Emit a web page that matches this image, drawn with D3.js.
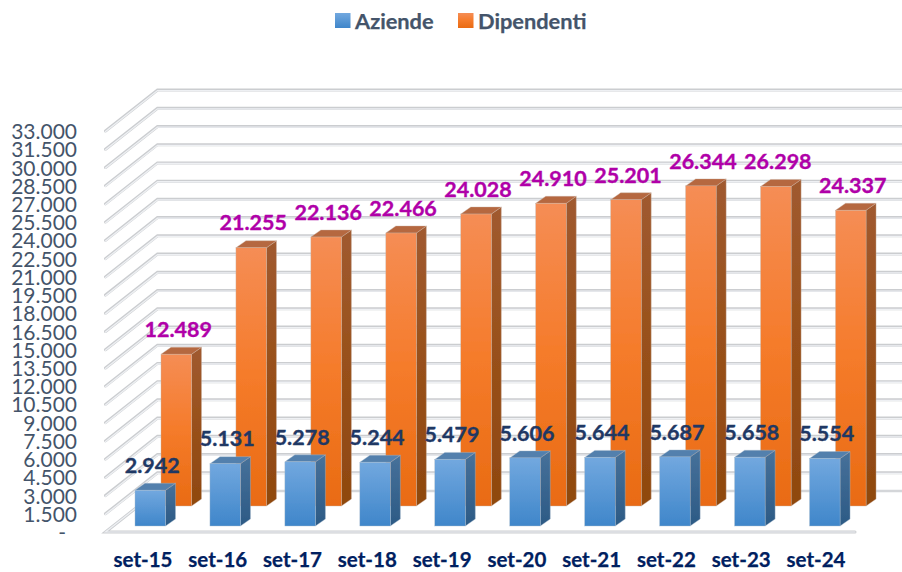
<!DOCTYPE html>
<html><head><meta charset="utf-8">
<script src="https://cdn.jsdelivr.net/npm/d3@7/dist/d3.min.js"></script>
<style>html,body{margin:0;padding:0;background:#fff}svg{display:block}text{font-family:Lato,"Open Sans",sans-serif}</style>
</head><body><svg id="c" width="902" height="572"></svg>
<script>
const categories=["set-15","set-16","set-17","set-18","set-19","set-20","set-21","set-22","set-23","set-24"];
const aziende=[2942,5131,5278,5244,5479,5606,5644,5687,5658,5554];
const dipendenti=[12489,21255,22136,22466,24028,24910,25201,26344,26298,24337];
const tickValues=d3.range(0,33001,1500);
const seriesNames=["Aziende","Dipendenti"];

const W=902,H=572;
const svg=d3.select("#c");
const fmt=d3.formatLocale({decimal:",",thousands:".",grouping:[3],currency:["",""]}).format(",d");
const y=d3.scaleLinear().domain([0,33000]).range([532,131]);
const x=d3.scaleBand().domain(categories).range([105.5,855]).paddingInner(0).paddingOuter(0);
const catX=d3.scalePoint().domain(categories).range([143,816]);
const wallDx=52,wallDy=-41;      // depth of the chart box
const barW=30.5,barDx=10,barDy=-7; // bar geometry
const frontX=d=>x(d)+29.5, backX=d=>x(d)+55.5;
const frontBase=526, backBase=506;

const defs=svg.append("defs");
function grad(id,stops){const g=defs.append("linearGradient").attr("id",id).attr("x1",0).attr("x2",0).attr("y1",0).attr("y2",1);
 stops.forEach(s=>g.append("stop").attr("offset",s[0]).attr("stop-color",s[1]));}
grad("blue",[[0,"#72a8df"],[1,"#3f86ca"]]);
grad("orange",[[0,"#f58d55"],[0.5,"#f57b2a"],[1,"#e96b13"]]);
grad("orangeSide",[[0,"#a05a30"],[0.5,"#98501a"],[1,"#8f480f"]]);
grad("blueSide",[[0,"#47719a"],[1,"#2c5a85"]]);
defs.append("filter").attr("id","soft").append("feGaussianBlur").attr("stdDeviation",0.45);

const chart=svg.append("g").attr("filter","url(#soft)");
// gridlines: back wall and side wall
const grid=chart.append("g");
tickValues.forEach(v=>{
  const yy=y(v);
  const pts=[[x.range()[0],yy],[x.range()[0]+wallDx,yy+wallDy],[W+5,yy+wallDy]];
  if(v===0) return;
  grid.append("path").attr("d",d3.line()(pts)).attr("fill","none").attr("stroke","#cbcdd0").attr("stroke-width",3).attr("stroke-linecap","round");
  grid.append("path").attr("d",d3.line()(pts.map(p=>[p[0],p[1]+0.6]))).attr("fill","none").attr("stroke","#eef0f3").attr("stroke-width",1.3).attr("stroke-linecap","round");
});
// floor
{
  const yy=y(0),x0=x.range()[0],x1=x.range()[1];
  const pts=[[x0+wallDx,yy+wallDy],[x0,yy],[x1,yy]];
  grid.append("path").attr("d",d3.line()(pts)).attr("fill","none").attr("stroke","#cbcdd0").attr("stroke-width",3).attr("stroke-linecap","round");
  grid.append("path").attr("d",d3.line()(pts)).attr("fill","none").attr("stroke","#eef0f3").attr("stroke-width",1.2).attr("stroke-linecap","round");
  grid.append("path").attr("d",d3.line()([[x0+wallDx,yy+wallDy],[W+5,yy+wallDy]])).attr("fill","none").attr("stroke","#d4d6d9").attr("stroke-width",2.5);
}

function bars(values,xf,base,fill,top,side,stroke){
  const g=chart.append("g");
  categories.forEach((c,i)=>{
    const x0=xf(c),x1=x0+barW,yt=base-(y(0)-y(values[i]));
    g.append("path").attr("d",`M${x1},${yt}L${x1+barDx},${yt+barDy}L${x1+barDx},${base+barDy}L${x1},${base}Z`).attr("fill",side).attr("stroke",stroke).attr("stroke-width",.4);
    g.append("path").attr("d",`M${x0},${yt}L${x0+barDx},${yt+barDy}L${x1+barDx},${yt+barDy}L${x1},${yt}Z`).attr("fill",top).attr("stroke",stroke).attr("stroke-width",.4);
    g.append("rect").attr("x",x0).attr("y",yt).attr("width",barW).attr("height",base-yt).attr("fill",fill).attr("stroke",stroke).attr("stroke-width",.4);
  });
}
bars(dipendenti,backX,backBase,"url(#orange)","#b5673f","url(#orangeSide)","#c9b3a5");
bars(aziende,frontX,frontBase,"url(#blue)","#5380ad","url(#blueSide)","#a9bccd");

// labels
const lab=svg.append("g").attr("font-weight",700).attr("font-size",21.5).attr("text-anchor","middle").attr("stroke-width",.35);
categories.forEach((c,i)=>{
  const ya=frontBase-(y(0)-y(aziende[i])), yd=backBase-(y(0)-y(dipendenti[i]));
  lab.append("text").attr("x",frontX(c)+barW/2+2).attr("y",ya-25).attr("dy","0.36em").attr("fill","#1f3864").attr("stroke","#1f3864").text(fmt(aziende[i]));
  lab.append("text").attr("x",backX(c)+barW/2+2).attr("y",yd-25).attr("dy","0.36em").attr("fill","#b000a8").attr("stroke","#b000a8").text(fmt(dipendenti[i]));
  svg.append("text").attr("x",catX(c)).attr("y",566.5).attr("text-anchor","middle").attr("font-weight",700).attr("font-size",20.5).attr("fill","#002060").attr("stroke","#002060").attr("stroke-width",.25).text(c);
});

// y tick labels
const yAxis=d3.axisLeft(y).tickValues(tickValues).tickSize(0).tickPadding(0).tickFormat(v=>v===0?"-":fmt(v));
const ax=svg.append("g").attr("transform","translate(77,0)").call(yAxis);
ax.select(".domain").remove();
ax.selectAll("text").attr("font-size",21).attr("font-family",'Lato,"Open Sans",sans-serif').attr("fill","#44546a").attr("dy","0.36em").attr("x",v=>v===0?-11:0);

// legend
const lg=svg.append("g");
[[335,355,"url(#blue)"],[458,478,"url(#orange)"]].forEach((l,i)=>{
  lg.append("rect").attr("x",l[0]).attr("y",13).attr("width",15.5).attr("height",15).attr("fill",l[2]);
  lg.append("text").attr("x",l[1]).attr("y",21).attr("dy","0.36em").attr("font-weight",700).attr("font-size",21.8).attr("fill","#44546a").attr("stroke","#44546a").attr("stroke-width",.25).text(seriesNames[i]);
});
</script></body></html>
